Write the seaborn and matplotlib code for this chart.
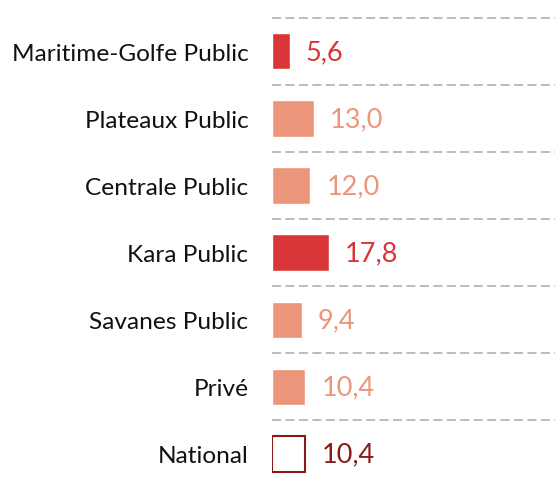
import matplotlib
matplotlib.use("Agg")
import matplotlib.pyplot as plt
import seaborn as sns
import pandas as pd

categories = ["Maritime-Golfe Public", "Plateaux Public", "Centrale Public",
              "Kara Public", "Savanes Public", "Privé", "National"]
values = [5.6, 13.0, 12.0, 17.8, 9.4, 10.4, 10.4]
labels = ["5,6", "13,0", "12,0", "17,8", "9,4", "10,4", "10,4"]
bar_colors = ["#d83539", "#eb967a", "#eb967a", "#d83539", "#eb967a", "#eb967a", "#ffffff"]
text_colors = ["#d83539", "#eb967a", "#eb967a", "#d83539", "#eb967a", "#eb967a", "#8a1a1a"]
national_edge = "#8a1a1a"

sns.set_style("white")
plt.rcParams["font.family"] = ["Lato", "DejaVu Sans"]

df = pd.DataFrame({"cat": categories, "val": values})

fig = plt.figure(figsize=(5.55, 4.85), dpi=100)
ax = fig.add_axes([272 / 555, 0, 283 / 555, 1])

sns.barplot(data=df, x="val", y="cat", hue="cat", palette=bar_colors,
            legend=False, width=0.54, ax=ax, saturation=1, orient="h")

for i, p in enumerate(ax.patches):
    if categories[i] == "National":
        p.set_facecolor("white")
        p.set_edgecolor(national_edge)
        p.set_linewidth(1.5)

n = len(categories)
for i in range(n):
    ax.axhline(i - 0.5, color="#aaaaaa", lw=1.1, linestyle=(0, (5.9, 2.9)), zorder=0)
    ax.text(values[i] + 5.0, i, labels[i], color=text_colors[i],
            fontsize=19.5, va="center", ha="left")

ax.set_xlim(0, 88.4)
ax.set_ylim(n - 0.55, -0.78)
ax.set_xlabel("")
ax.set_ylabel("")
ax.set_xticks([])
ax.tick_params(axis="y", length=0, pad=17, labelsize=17.6, labelcolor="#111111")
for s in ax.spines.values():
    s.set_visible(False)

fig.savefig("out.png", dpi=100)
